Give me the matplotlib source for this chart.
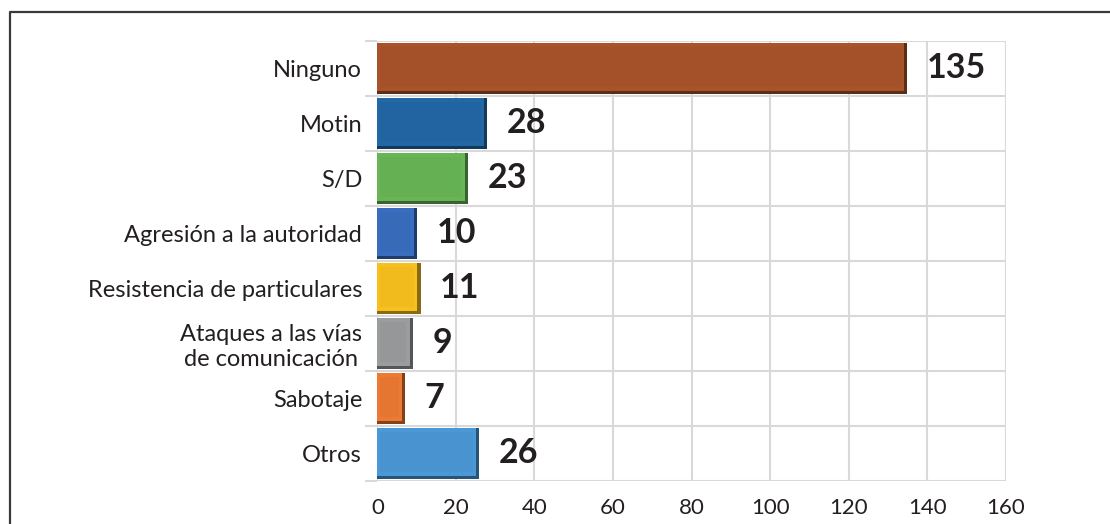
import matplotlib.pyplot as plt
from matplotlib.lines import Line2D
import matplotlib.colors as mcolors
import numpy as np

categorias = ["Ninguno", "Motin", "S/D", "Agresión a la autoridad",
              "Resistencia de particulares",
              "Ataques a las vías\nde comunicación", "Sabotaje", "Otros"]
valores = [135, 28, 23, 10, 11, 9, 7, 26]
colores = ["#A9532A", "#2267A6", "#67B555", "#3A6DC0",
           "#F8C01E", "#9A9C9E", "#EC7A33", "#4A98D6"]
ticks_x = [0, 20, 40, 60, 80, 100, 120, 140, 160]

plt.rcParams['font.family'] = ['Lato', 'DejaVu Sans']

fig = plt.figure(figsize=(11.1, 5.24), dpi=100)
ax = fig.add_axes([0.340, 0.0821, 0.566, 0.8397])

y = np.arange(len(categorias))

def oscuro(c, f):
    r, g, b = mcolors.to_rgb(c)
    return (r * f, g * f, b * f)

# barra base (borde oscuro del bisel)
ax.barh(y, valores, height=0.94, color=[oscuro(c, 0.55) for c in colores], zorder=3)
# cara interior del bisel
ax.barh(y - 0.03, [v - 0.8 for v in valores], height=0.88,
        color=colores, zorder=4)
ax.barh(y - 0.03, [v - 2.2 for v in valores], height=0.72, left=0.6,
        color=[oscuro(c, 0.97) for c in colores], zorder=5)

for yi, v in zip(y, valores):
    ax.text(v + 5, yi, str(v), va='center', ha='left', fontsize=24.5,
            fontweight='bold', color='#231F20', zorder=6)

ax.set_xlim(0, 160)
ax.set_ylim(len(categorias) - 0.5, -0.5)
ax.set_xticks(ticks_x)
ax.set_yticks(y)
ax.set_yticklabels(categorias, multialignment='center')
ax.set_yticks(np.arange(-0.5, len(categorias), 1), minor=True)

ax.tick_params(axis='y', which='major', length=0, pad=11, labelsize=17,
               labelcolor='#231F20')
ax.tick_params(axis='y', which='minor', length=9, color='#D9D9D9', width=1.5)
ax.tick_params(axis='x', length=0, pad=12, labelsize=16, labelcolor='#231F20')

ax.grid(True, axis='x', color='#D9D9D9', linewidth=1.5, zorder=0)
ax.grid(True, axis='y', which='minor', color='#D9D9D9', linewidth=1.5, zorder=0)
ax.set_axisbelow(True)
for s in ax.spines.values():
    s.set_visible(False)
ax.axvline(0, color='#D9D9D9', linewidth=1.5, zorder=1)

# marco de la figura
fig.add_artist(Line2D([10 / 1110, 10 / 1110, 1.0], [0.0, 1 - 12 / 524, 1 - 12 / 524],
                      transform=fig.transFigure, color='#3A3A3A', linewidth=1.6))

fig.savefig("out.png", dpi=100)
